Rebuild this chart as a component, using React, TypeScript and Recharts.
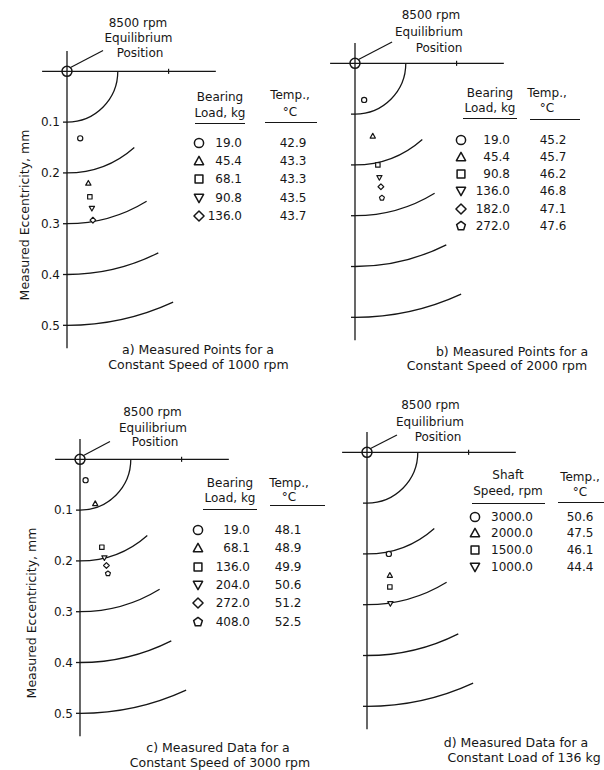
import React from 'react';
import {
  ComposedChart,
  Line,
  ReferenceDot,
  ReferenceLine,
  Scatter,
  XAxis,
  YAxis,
} from 'recharts';

const INK = '#161616';
const FONT = '"DejaVu Sans", Verdana, sans-serif';

/** one scale for both axes so the rings stay round */
const PX_PER_MM = 508;
const X_DOMAIN: [number, number] = [0, 0.3];
const Y_DOMAIN: [number, number] = [-0.04, 0.545];
const Y_AXIS_W = 40;
const M = { top: 10, right: 10, bottom: 10, left: 0 };

// constant-eccentricity rings, end angle measured from the vertical axis
const RING_RADII = [0.1, 0.2, 0.3, 0.4, 0.5];
const RING_END_DEG = [90, 41.5, 31.5, 26.7, 24.7];
const ECC_TICKS = [0.1, 0.2, 0.3, 0.4, 0.5];

type Kind = 'circle' | 'triangle' | 'square' | 'triangleDown' | 'diamond' | 'pentagon';
const KINDS: Kind[] = ['circle', 'triangle', 'square', 'triangleDown', 'diamond', 'pentagon'];

// a) 1000 rpm
const LOADS_A = ['19.0', '45.4', '68.1', '90.8', '136.0'];
const TEMPS_A = ['42.9', '43.3', '43.3', '43.5', '43.7'];
const ECC_X_A = [0.026, 0.042, 0.045, 0.049, 0.051];
const ECC_Y_A = [0.132, 0.22, 0.247, 0.27, 0.293];

// b) 2000 rpm
const LOADS_B = ['19.0', '45.4', '90.8', '136.0', '182.0', '272.0'];
const TEMPS_B = ['45.2', '45.7', '46.2', '46.8', '47.1', '47.6'];
const ECC_X_B = [0.018, 0.035, 0.045, 0.048, 0.051, 0.053];
const ECC_Y_B = [0.072, 0.143, 0.2, 0.225, 0.243, 0.265];

// c) 3000 rpm
const LOADS_C = ['19.0', '68.1', '136.0', '204.0', '272.0', '408.0'];
const TEMPS_C = ['48.1', '48.9', '49.9', '50.6', '51.2', '52.5'];
const ECC_X_C = [0.011, 0.03, 0.043, 0.048, 0.052, 0.055];
const ECC_Y_C = [0.041, 0.087, 0.173, 0.194, 0.209, 0.225];

// d) load 136 kg
const SPEEDS_D = ['3000.0', '2000.0', '1500.0', '1000.0'];
const TEMPS_D = ['50.6', '47.5', '46.1', '44.4'];
const ECC_X_D = [0.043, 0.045, 0.045, 0.046];
const ECC_Y_D = [0.2, 0.242, 0.265, 0.298];

const EQUILIBRIUM_LABEL = ['8500 rpm', 'Equilibrium', 'Position'];
const AXIS_TITLE = 'Measured Eccentricity, mm';

/** d3 curve: circular arc from a point on the vertical axis to the end point, centred on that axis */
const ringCurve = (context: any) => {
  const pts: [number, number][] = [];
  return {
    areaStart() {},
    areaEnd() {},
    lineStart() {
      pts.length = 0;
    },
    point(x: number, y: number) {
      pts.push([x, y]);
    },
    lineEnd() {
      if (pts.length < 2) return;
      const [x0, y0] = pts[0];
      const [x1, y1] = pts[pts.length - 1];
      const dy = y0 - y1;
      const r = ((x1 - x0) ** 2 + dy ** 2) / (2 * dy);
      const cy = y0 - r;
      context.moveTo(x0, y0);
      context.arc(x0, cy, r, Math.PI / 2, Math.atan2(y1 - cy, x1 - x0), true);
    },
  };
};

function symbolPath(kind: Kind, cx: number, cy: number, h: number) {
  switch (kind) {
    case 'triangle':
      return `M${cx},${cy - h} L${cx + h},${cy + h * 0.8} L${cx - h},${cy + h * 0.8} Z`;
    case 'triangleDown':
      return `M${cx},${cy + h} L${cx + h},${cy - h * 0.8} L${cx - h},${cy - h * 0.8} Z`;
    case 'square': {
      const s = h * 0.85;
      return `M${cx - s},${cy - s} H${cx + s} V${cy + s} H${cx - s} Z`;
    }
    case 'diamond': {
      const s = h * 1.1;
      return `M${cx},${cy - s} L${cx + s},${cy} L${cx},${cy + s} L${cx - s},${cy} Z`;
    }
    case 'pentagon': {
      const p = [0, 1, 2, 3, 4].map((k) => {
        const a = ((-90 + 72 * k) * Math.PI) / 180;
        return `${cx + h * Math.cos(a)},${cy + h * Math.sin(a)}`;
      });
      return `M${p.join(' L')} Z`;
    }
    default:
      return '';
  }
}

const Marker: React.FC<{ kind: Kind; cx: number; cy: number; h: number; sw: number }> = ({ kind, cx, cy, h, sw }) =>
  kind === 'circle' ? (
    <circle cx={cx} cy={cy} r={h} fill="#fff" stroke={INK} strokeWidth={sw} />
  ) : (
    <path d={symbolPath(kind, cx, cy, h)} fill="#fff" stroke={INK} strokeWidth={sw} strokeLinejoin="round" />
  );

const T: React.FC<{ x: number; y: number; align?: 'center' | 'right' | 'left'; size?: number; children: React.ReactNode }> = ({
  x,
  y,
  align = 'center',
  size = 12,
  children,
}) => {
  const tx = align === 'center' ? '-50%' : align === 'right' ? '-100%' : '0';
  return (
    <div
      style={{
        position: 'absolute',
        left: x,
        top: y,
        transform: `translate(${tx}, -50%)`,
        whiteSpace: 'nowrap',
        fontSize: size,
        lineHeight: 1,
      }}
    >
      {children}
    </div>
  );
};

const Rule: React.FC<{ x1: number; x2: number; y: number }> = ({ x1, x2, y }) => (
  <div style={{ position: 'absolute', left: x1, top: y, width: x2 - x1, height: 0, borderTop: `1.5px solid ${INK}` }} />
);

interface PanelProps {
  ox: number;
  oy: number;
  xs: number[];
  ys: number[];
  tickLabels: boolean;
  leader: [number, number];
}

const EccentricityPlot: React.FC<PanelProps> = ({ ox, oy, xs, ys, tickLabels, leader }) => {
  const plotW = (X_DOMAIN[1] - X_DOMAIN[0]) * PX_PER_MM;
  const plotH = (Y_DOMAIN[1] - Y_DOMAIN[0]) * PX_PER_MM;
  const width = M.left + Y_AXIS_W + plotW + M.right;
  const height = M.top + plotH + M.bottom;
  const left = ox - M.left - Y_AXIS_W;
  const top = oy - M.top - -Y_DOMAIN[0] * PX_PER_MM;

  return (
    <div style={{ position: 'absolute', left, top }}>
      <ComposedChart width={width} height={height} margin={M}>
        <XAxis type="number" dataKey="x" domain={X_DOMAIN} allowDataOverflow hide />
        <YAxis
          type="number"
          domain={Y_DOMAIN}
          reversed
          allowDataOverflow
          ticks={ECC_TICKS}
          interval={0}
          width={Y_AXIS_W}
          tickSize={4}
          tickMargin={3}
          axisLine={{ stroke: INK, strokeWidth: 1.3 }}
          tickLine={{ stroke: INK, strokeWidth: 1.3 }}
          tick={{ fill: INK, fontSize: 12, fontFamily: FONT }}
          tickFormatter={(v: number) => (tickLabels ? v.toFixed(1) : '')}
        />
        <ReferenceLine
          segment={[{ x: -0.049, y: 0 }, { x: 0.293, y: 0 }]}
          stroke={INK}
          strokeWidth={1.3}
          ifOverflow="visible"
        />
        <ReferenceLine
          segment={[{ x: 0.2, y: -0.005 }, { x: 0.2, y: 0.005 }]}
          stroke={INK}
          strokeWidth={1.2}
          ifOverflow="visible"
        />
        <ReferenceLine
          segment={[{ x: 0.006, y: -0.007 }, { x: leader[0], y: leader[1] }]}
          stroke={INK}
          strokeWidth={1.2}
          ifOverflow="visible"
        />
        <ReferenceDot x={0} y={0} r={5} fill="none" stroke={INK} strokeWidth={1.5} ifOverflow="visible" />
        {RING_RADII.map((r, i) => {
          const a = (RING_END_DEG[i] * Math.PI) / 180;
          return (
            <Line
              key={r}
              data={[
                { x: 0, y: r },
                { x: r * Math.sin(a), y: r * Math.cos(a) },
              ]}
              dataKey="y"
              type={ringCurve as any}
              stroke={INK}
              strokeWidth={1.3}
              dot={false}
              activeDot={false}
              isAnimationActive={false}
            />
          );
        })}
        {xs.map((x, i) => (
          <Scatter
            key={KINDS[i]}
            data={[{ x, y: ys[i] }]}
            dataKey="y"
            isAnimationActive={false}
            shape={(p: any) => <Marker kind={KINDS[i]} cx={p.cx} cy={p.cy} h={2.6} sw={1.2} />}
          />
        ))}
      </ComposedChart>
    </div>
  );
};

interface TableProps {
  headA: string[];
  headAX: number;
  headAY: number[];
  ruleA: [number, number, number];
  headBX: number;
  headBY: number[];
  ruleB: [number, number, number];
  symX: number;
  valX: number;
  tempX: number;
  rowY: number[];
  values: string[];
  temps: string[];
}

const Table: React.FC<TableProps> = (p) => (
  <>
    {p.headA.map((s, i) => (
      <T key={s} x={p.headAX} y={p.headAY[i]}>
        {s}
      </T>
    ))}
    <Rule x1={p.ruleA[0]} x2={p.ruleA[1]} y={p.ruleA[2]} />
    <T x={p.headBX} y={p.headBY[0]}>
      Temp.,
    </T>
    <T x={p.headBX} y={p.headBY[1]}>
      °C
    </T>
    <Rule x1={p.ruleB[0]} x2={p.ruleB[1]} y={p.ruleB[2]} />
    {p.values.map((v, i) => (
      <React.Fragment key={v}>
        <svg
          width={14}
          height={14}
          style={{ position: 'absolute', left: p.symX - 7, top: p.rowY[i] - 7, overflow: 'visible' }}
        >
          <Marker kind={KINDS[i]} cx={7} cy={7} h={4.6} sw={1.5} />
        </svg>
        <T x={p.valX} y={p.rowY[i]} align="right">
          {v}
        </T>
        <T x={p.tempX} y={p.rowY[i]}>
          {p.temps[i]}
        </T>
      </React.Fragment>
    ))}
  </>
);

const Lines: React.FC<{ lines: string[]; xs: number[]; ys: number[]; size?: number }> = ({ lines, xs, ys, size }) => (
  <>
    {lines.map((s, i) => (
      <T key={s} x={xs[i]} y={ys[i]} size={size}>
        {s}
      </T>
    ))}
  </>
);

const AxisTitle: React.FC<{ x: number; y: number }> = ({ x, y }) => (
  <div
    style={{
      position: 'absolute',
      left: x,
      top: y,
      transform: 'translate(-50%, -50%) rotate(-90deg)',
      whiteSpace: 'nowrap',
      fontSize: 12.5,
      lineHeight: 1,
    }}
  >
    {AXIS_TITLE}
  </div>
);

export default function App() {
  return (
    <div
      style={{
        position: 'absolute',
        left: 0,
        top: 0,
        width: 604,
        height: 770,
        overflow: 'hidden',
        background: '#fff',
        color: INK,
        fontFamily: FONT,
      }}
    >
      {/* a) */}
      <EccentricityPlot ox={67} oy={71} xs={ECC_X_A} ys={ECC_Y_A} tickLabels leader={[0.071, -0.041]} />
      <Lines lines={EQUILIBRIUM_LABEL} xs={[138, 138.5, 140]} ys={[23, 38, 53]} />
      <AxisTitle x={25} y={215} />
      <Table
        headA={['Bearing', 'Load, kg']}
        headAX={220}
        headAY={[97, 113]}
        ruleA={[195, 245, 123]}
        headBX={290}
        headBY={[95, 112]}
        ruleB={[265, 317, 122]}
        symX={199}
        valX={242}
        tempX={293}
        rowY={[142.5, 161, 179, 197.5, 216]}
        values={LOADS_A}
        temps={TEMPS_A}
      />
      <Lines
        lines={['a)  Measured Points for a', 'Constant Speed of 1000 rpm']}
        xs={[198, 198.5]}
        ys={[350, 365]}
        size={12.5}
      />

      {/* b) */}
      <EccentricityPlot ox={355} oy={63} xs={ECC_X_B} ys={ECC_Y_B} tickLabels={false} leader={[0.073, -0.042]} />
      <Lines lines={EQUILIBRIUM_LABEL} xs={[431, 429, 439]} ys={[15, 32, 48]} />
      <Table
        headA={['Bearing', 'Load, kg']}
        headAX={490}
        headAY={[93, 108]}
        ruleA={[463, 517, 118]}
        headBX={547}
        headBY={[93, 108]}
        ruleB={[530, 580, 119]}
        symX={461}
        valX={510}
        tempX={553}
        rowY={[140, 156.5, 173.5, 191, 208.5, 226]}
        values={LOADS_B}
        temps={TEMPS_B}
      />
      <Lines
        lines={['b)  Measured Points for a', 'Constant Speed of 2000 rpm']}
        xs={[512, 497]}
        ys={[352, 366]}
        size={12.5}
      />

      {/* c) */}
      <EccentricityPlot ox={80} oy={459} xs={ECC_X_C} ys={ECC_Y_C} tickLabels leader={[0.059, -0.035]} />
      <Lines lines={EQUILIBRIUM_LABEL} xs={[152.5, 153, 155]} ys={[412, 428, 442]} />
      <AxisTitle x={32} y={613} />
      <Table
        headA={['Bearing', 'Load, kg']}
        headAX={230}
        headAY={[483, 498]}
        ruleA={[203, 257, 509]}
        headBX={289}
        headBY={[483, 497]}
        ruleB={[270, 325, 505]}
        symX={198}
        valX={250}
        tempX={288}
        rowY={[530, 548, 567, 585, 603, 622]}
        values={LOADS_C}
        temps={TEMPS_C}
      />
      <Lines
        lines={['c)  Measured Data for a', 'Constant Speed of 3000 rpm']}
        xs={[218, 220]}
        ys={[748, 763]}
        size={12.5}
      />

      {/* d) */}
      <EccentricityPlot ox={367} oy={452} xs={ECC_X_D} ys={ECC_Y_D} tickLabels={false} leader={[0.059, -0.034]} />
      <Lines lines={EQUILIBRIUM_LABEL} xs={[430.5, 430, 438]} ys={[405, 422, 437]} />
      <Table
        headA={['Shaft', 'Speed, rpm']}
        headAX={508}
        headAY={[475, 491]}
        ruleA={[472, 545, 503]}
        headBX={580}
        headBY={[477, 492]}
        ruleB={[558, 604, 502]}
        symX={475}
        valX={533}
        tempX={580}
        rowY={[517, 533, 549.5, 567]}
        values={SPEEDS_D}
        temps={TEMPS_D}
      />
      <Lines
        lines={['d)  Measured Data for a', 'Constant Load of 136 kg']}
        xs={[516, 524]}
        ys={[743, 758]}
        size={12.5}
      />
    </div>
  );
}
